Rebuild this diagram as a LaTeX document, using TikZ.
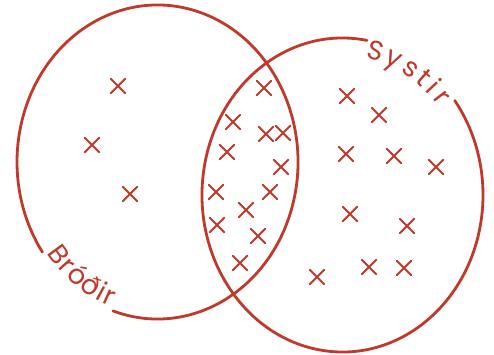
\documentclass[tikz,border=0pt]{standalone}
\usepackage{fontspec}
\setmainfont{Poppins}
\usepackage{tikz}
\usetikzlibrary{calc,decorations.text,shapes.misc}
\definecolor{vennred}{HTML}{C0392B}
\newcommand\vennfont{\fontsize{27}{27}\selectfont}

\begin{document}
\begin{tikzpicture}[x=1pt,y=1pt,line cap=round,line join=round,
  ring/.style={vennred,line width=2.8pt},
  xmark/.style={cross out,draw=vennred,line width=1.8pt,minimum size=12.5pt,inner sep=0pt},
  curvetext/.style={decorate,font=\vennfont,decoration={text along path,text align=fit to path,text color=vennred,raise=#1}}]
\path[use as bounding box] (0,0) rectangle (494,354);
\fill[white] (0,0) rectangle (494,354);

% the two sets
\coordinate (bro) at (157.5,192);
\coordinate (sys) at (342.5,159);
\draw[ring] ($(bro)+(251.5:140.5pt and 157pt)$)
  arc[start angle=251.5,end angle=575,x radius=140.5pt,y radius=157pt];
\draw[ring] ($(sys)+(80:140.5pt and 157pt)$)
  arc[start angle=80,end angle=397,x radius=140.5pt,y radius=157pt];

% labels in the gaps
\path[curvetext=3pt,decoration={text={|\vennfont|Bróðir}}]
  ($(bro)+(216.5:140.5pt and 157pt)$)
  arc[start angle=216.5,end angle=250,x radius=140.5pt,y radius=157pt];
\path[curvetext=-17pt,decoration={text={|\vennfont|Systir}}]
  ($(sys)+(78.5:140.5pt and 157pt)$)
  arc[start angle=78.5,end angle=39,x radius=140.5pt,y radius=157pt];

% elements
\foreach \p [count=\i] in {(118,268),(92,209),(130,160)}
  \node[xmark] (b\i) at \p {};
\foreach \p [count=\i] in {(264,266),(233,232),(266,220),(283,221),(227,202),(281,187),
    (216,162),(270,162),(246,144),(217,129),(258,118),(240,91)}
  \node[xmark] (bs\i) at \p {};
\foreach \p [count=\i] in {(347,258),(379,239),(346,200),(394,198),(436,187),(350,140),
    (407,128),(317,77),(369,87),(404,86)}
  \node[xmark] (s\i) at \p {};
\end{tikzpicture}
\end{document}
